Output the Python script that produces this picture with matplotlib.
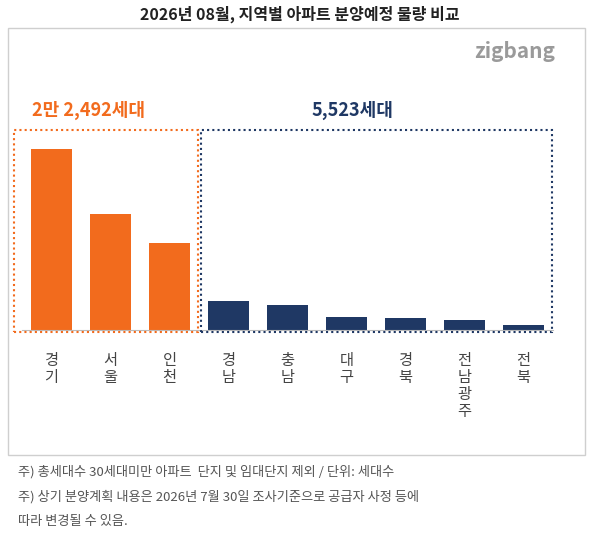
import matplotlib
matplotlib.use('Agg')
import matplotlib.pyplot as plt
from matplotlib.patches import Rectangle

plt.rcParams['font.family'] = ['Noto Sans CJK KR', 'DejaVu Sans']

regions = ['경\n기', '서\n울', '인\n천', '경\n남', '충\n남', '대\n구', '경\n북', '전\n남\n광\n주', '전\n북']
values = [10600, 6800, 5100, 1720, 1440, 760, 700, 590, 313]
metro_count = 3
metro_label = '2만 2,492세대'
other_label = '5,523세대'
title = '2026년 08월, 지역별 아파트 분양예정 물량 비교'
notes = ['주) 총세대수 30세대미만 아파트  단지 및 임대단지 제외 / 단위: 세대수',
         '주) 상기 분양계획 내용은 2026년 7월 30일 조사기준으로 공급자 사정 등에',
         '따라 변경될 수 있음.']

ORANGE = '#F26B1D'
NAVY = '#1F3864'
W, H = 600, 540

fig = plt.figure(figsize=(6, 5.4), dpi=100)

def fx(px):
    return px / W

def fy(py):
    return 1 - py / H

# title and panel
fig.text(0.5, fy(14), title, ha='center', va='center', fontsize=11.5, fontweight='bold', color='#222222')
fig.patches.append(Rectangle((fx(8), fy(455)), fx(585) - fx(8), fy(28) - fy(455),
                             transform=fig.transFigure, fill=False, ec='#cfcfcf', lw=1))
fig.text(fx(515), fy(52), 'zigbang', ha='center', va='center', fontsize=15, color='#9a9a9a', fontweight='bold')

ax = fig.add_axes([fx(22), fy(330), fx(553) - fx(22), fy(125) - fy(330)])
colors = [ORANGE] * metro_count + [NAVY] * (len(values) - metro_count)
ax.bar(range(len(values)), values, width=0.68, color=colors)
ax.set_xlim(-0.5, len(values) - 0.5)
ax.set_ylim(0, 12000)
ax.set_yticks([])
ax.set_xticks(range(len(values)))
ax.set_xticklabels(regions, fontsize=11, color='#444444', linespacing=1.0, va='top')
ax.tick_params(axis='x', length=0, pad=16)
for s in ['top', 'left', 'right']:
    ax.spines[s].set_visible(False)
ax.spines['bottom'].set_color('#bbbbbb')
ax.patch.set_alpha(0)

# group boxes
fig.patches.append(Rectangle((fx(14), fy(332)), fx(198) - fx(14), fy(130) - fy(332),
                             transform=fig.transFigure, fill=False, ec=ORANGE, lw=1.5, ls=(0, (1, 1.5))))
fig.patches.append(Rectangle((fx(201), fy(332)), fx(552) - fx(201), fy(130) - fy(332),
                             transform=fig.transFigure, fill=False, ec=NAVY, lw=1.5, ls=(0, (1, 1.5))))
fig.text(fx(88), fy(110), metro_label, ha='center', va='center', fontsize=13, fontweight='bold', color=ORANGE)
fig.text(fx(352), fy(110), other_label, ha='center', va='center', fontsize=13, fontweight='bold', color=NAVY)

for i, n in enumerate(notes):
    fig.text(fx(18), fy(472 + i * 25), n, ha='left', va='center', fontsize=9.5, color='#555555')

fig.savefig('out.png', dpi=100)
